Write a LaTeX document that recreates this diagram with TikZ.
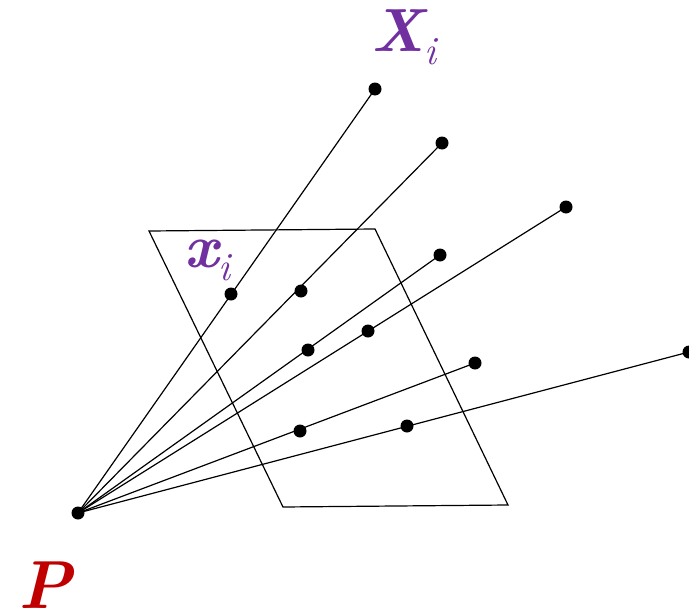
\documentclass[tikz,border=0pt]{standalone}
\usepackage{tikz}
\usetikzlibrary{positioning}
\definecolor{ptpurple}{HTML}{7030A0}
\definecolor{ptred}{HTML}{C00000}
\newcommand{\ptsub}[1]{{\fontsize{40}{42}\selectfont\raisebox{-13pt}{\mdseries\itshape #1}}}
\tikzset{
  rayDot/.style={circle, fill=black, inner sep=0pt, minimum size=13pt},
  rayLine/.style={line width=1.2pt, draw=black},
  planeEdge/.style={line width=1.2pt, draw=black, line join=miter},
  bigLabel/.style={inner sep=0pt, font=\fontsize{61}{64}\selectfont\bfseries\itshape}
}

\begin{document}
\begin{tikzpicture}[x=1pt,y=-1pt]
  \useasboundingbox (0,0) rectangle (689,616);
  % image plane
  \draw[planeEdge] (149,231) -- (375,229) -- (508,505) -- (283,507) -- cycle;
  \node[rayDot] (P) at (78,513) {};
  \foreach \n/\wx/\wy/\ix/\iy in {1/375/89/231/294,2/442/143/301/291,3/566/207/368/331,4/440/255/308/350,5/475/363/300/431,6/689/352/407/426} {
    \node[rayDot] (X\n) at (\wx,\wy) {};
    \node[rayDot] (x\n) at (\ix,\iy) {};
  }
  \foreach \n in {1,...,6}
    \draw[rayLine] (P.center) -- (X\n.center);
  \node[bigLabel, text=ptpurple, anchor=base west] (lblX) at (371,51) {X\ptsub{i}};
  \node[bigLabel, text=ptpurple, anchor=base west] (lblx) at (184,267) {x\ptsub{i}};
  \node[bigLabel, text=ptred, anchor=base west, font=\fontsize{68}{72}\selectfont\bfseries\itshape] (lblP) at (18,608) {P};
\end{tikzpicture}
\end{document}
